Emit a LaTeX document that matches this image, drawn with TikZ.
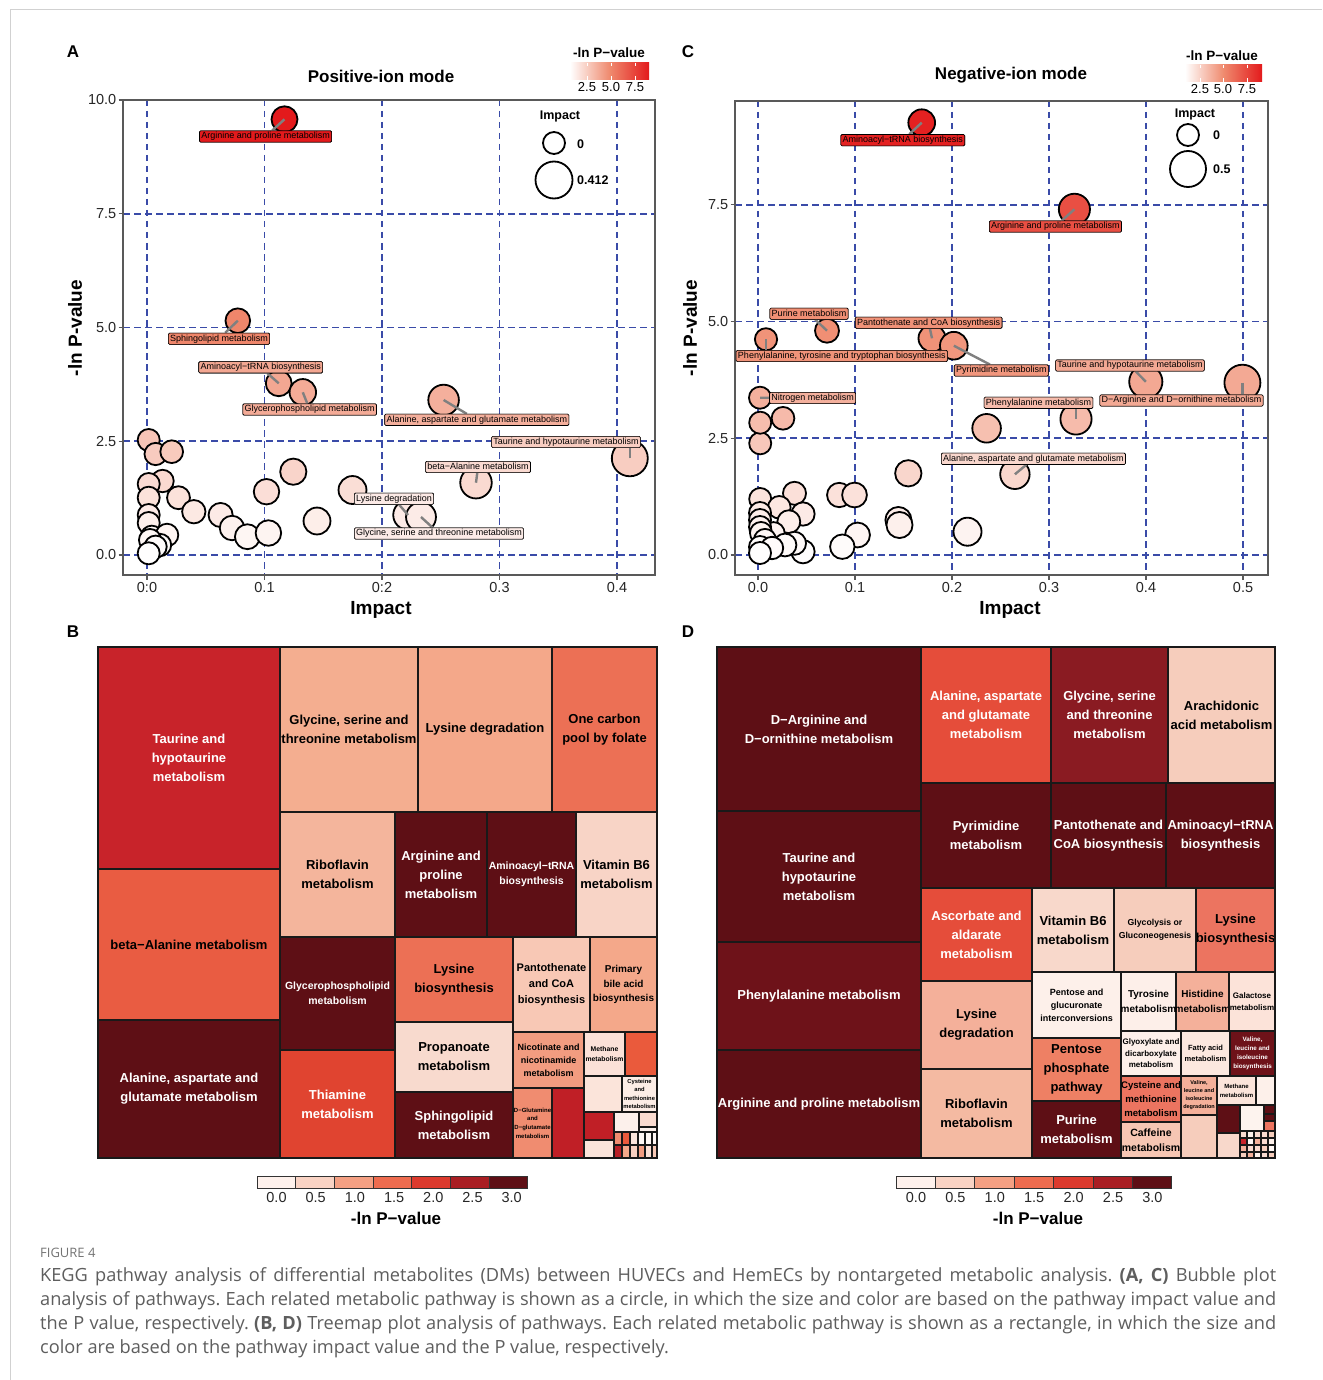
\documentclass[tikz,border=0pt]{standalone}
\usepackage{fontspec}
\setmainfont{Liberation Sans}
\newfontfamily\capfont{Open Sans}
\usetikzlibrary{calc}
\definecolor{salm}{HTML}{EF8A6E}
\definecolor{redone}{HTML}{E31A1C}
\definecolor{gridblue}{HTML}{3A4BA8}
\definecolor{capgray}{HTML}{5E5E5E}
\definecolor{cb0}{HTML}{FEF1EC}
\definecolor{cb1}{HTML}{F9D3C4}
\definecolor{cb2}{HTML}{F4A083}
\definecolor{cb3}{HTML}{EE6C4F}
\definecolor{cb4}{HTML}{DC3A2D}
\definecolor{cb5}{HTML}{A91E23}
\definecolor{cb6}{HTML}{5E0F15}
\newcommand\fs[2]{\fontsize{#1}{#2}\selectfont}
\newcommand\setbc[2]{%
  \pgfmathsetmacro\bpp{max(0,min(100,#1*20))}%
  \pgfmathsetmacro\bqq{max(0,min(100,(#1-5)*22))}%
  \colorlet{bctmp}{salm!\bpp!white}%
  \colorlet{#2}{redone!\bqq!bctmp}}
\newcommand\bubA[3]{%
  \pgfmathsetmacro\bimp{max(0,(#2-147)/1175)}%
  \pgfmathsetmacro\bval{max(0,(555-#3)/45.5)}%
  \pgfmathsetmacro\brad{11+7*\bimp/0.412}%
  \setbc{\bval}{col#1}%
  \node[bubble, fill=col#1, minimum size=2*\brad pt] (#1) at (#2,#3) {};}
\newcommand\bubC[3]{%
  \pgfmathsetmacro\bimp{max(0,(#2-758)/970)}%
  \pgfmathsetmacro\bval{max(0,(555-#3)/46.7)}%
  \pgfmathsetmacro\brad{11+7*\bimp/0.5}%
  \setbc{\bval}{col#1}%
  \node[bubble, fill=col#1, minimum size=2*\brad pt] (#1) at (#2,#3) {};}
\newcommand\cell[9]{%
  \edef\celltmp{\noexpand\definecolor{cellc}{HTML}{#6}}\celltmp
  \path[cellline, fill=cellc] (#2,#3) rectangle (#4,#5);
  \pgfmathsetmacro\clsp{#8*1.45}%
  \node[ctext, text=#7, font=\bfseries\fontsize{#8}{\clsp}\selectfont] (#1) at ({(#2+#4)/2},{(#3+#5)/2}) {#9};}
\newcommand\tcell[5]{%
  \edef\celltmp{\noexpand\definecolor{cellc}{HTML}{#5}}\celltmp
  \path[draw=black!90, line width=1.1pt, fill=cellc] (#1,#2) rectangle (#3,#4);}
\begin{document}
\frenchspacing
\begin{tikzpicture}[x=1pt,y=-1pt,
  grid/.style={gridblue, line width=1.6pt, dash pattern=on 6.5pt off 4.5pt},
  frame/.style={draw=black!65, line width=1.3pt},
  tick/.style={black!65, line width=1.1pt},
  ticklab/.style={font=\fs{14.5}{16}, text=black!85, inner sep=0pt},
  axtitle/.style={font=\bfseries\fs{19}{22}, inner sep=0pt},
  bubble/.style={circle, draw=black, line width=1.8pt, inner sep=0pt},
  leader/.style={draw=black!50, line width=2.4pt},
  plab/.style={draw=black, line width=0.6pt, rounded corners=1.2pt, inner xsep=1.8pt, inner ysep=1.4pt, text height=6.6pt, text depth=1.9pt, font=\fs{9}{10}, text=black},
  cellline/.style={draw=black!90, line width=1.9pt},
  ctext/.style={align=center, inner sep=0pt},
  panlab/.style={font=\bfseries\fs{17}{20}, inner sep=0pt},
  leglab/.style={font=\bfseries\fs{12.5}{14}, inner sep=0pt},
  captext/.style={anchor=base west, inner sep=0pt, text=capgray, font=\capfont\fs{18.2}{22}}]
\useasboundingbox (0,0) rectangle (1322,1380);
\fill[white] (0,0) rectangle (1322,1380);
\draw[black!18, line width=1pt] (10,1380) -- (10,10) -- (1322,10);

% ================= Panel A =================
\node[panlab] (pA) at (73,52) {A};
\node[font=\bfseries\fs{17}{20}, inner sep=0pt] (tA) at (381,76) {Positive-ion mode};
\foreach \u in {0,0.1,0.2,0.3,0.4} \draw[grid] ({147+1175*\u},100) -- ({147+1175*\u},575);
\foreach \v in {0,2.5,5,7.5,10} \draw[grid] (123,{555-45.5*\v}) -- (655,{555-45.5*\v});
\path[frame] (123,100) rectangle (655,575);
\foreach \v/\lab [count=\i] in {0/0.0,2.5/2.5,5/5.0,7.5/7.5,10/10.0} {
  \draw[tick] (118.5,{555-45.5*\v}) -- (123,{555-45.5*\v});
  \node[ticklab, anchor=east] (ya\i) at (116.5,{555-45.5*\v}) {\lab};}
\foreach \u/\lab [count=\i] in {0/0:0,0.1/0.1,0.2/0:2,0.3/0.3,0.4/0.4} {
  \draw[tick] ({147+1175*\u},575) -- ({147+1175*\u},579.5);
  \node[ticklab] (xa\i) at ({147+1175*\u},588) {\lab};}
\node[axtitle] (axA) at (381,610) {Impact};
\node[axtitle, rotate=90] (ayA) at (75,328) {-ln P-value};
\node[font=\bfseries\fs{13.5}{15}, inner sep=0pt] (lgA) at (609,53) {-ln P−value};
\shade[left color=white, right color=redone, middle color=salm] (570,63) rectangle (649,80);
\foreach \x/\lab [count=\i] in {587/2.5,611/5.0,635/7.5} {
  \draw[white, line width=0.8pt] (\x,63) -- (\x,66.5) (\x,76.5) -- (\x,80);
  \node[font=\fs{13}{14}, inner sep=0pt] (gA\i) at (\x,87.5) {\lab};}
\node[leglab] (impA) at (560,116) {Impact};
\node[bubble, fill=white, minimum size=22pt] (iA1) at (554,143) {};
\node[bubble, fill=white, minimum size=37pt] (iA2) at (554,180) {};
\node[leglab, anchor=west] (iAl1) at (577,144) {0};
\node[leglab, anchor=west] (iAl2) at (577,180) {0.412};
\foreach \x/\y [count=\i] in {148.7/440,155.6/454,171.7/451.7,162.5/481,148.7/484,148.7/497.7,178.5/497.7,193.8/511.7,148.7/515,148.7/523,220.6/515,232/528,247.4/536.7,268.4/533,266.5/491.7,293.3/471.7,317/521,352.5/490,151.8/536.7,167/535,160/545,150/540,155.6/546.7,148.7/553.3}
  {\bubA{ua\i}{\x}{\y}}
\bubA{a1}{284.5}{119.3}
\bubA{a2}{237.8}{320.7}
\bubA{a3}{278.7}{383.3}
\bubA{a4}{302.8}{392.3}
\bubA{a5}{443.6}{400}
\bubA{a6}{629.8}{458.3}
\bubA{a7}{476}{482.7}
\bubA{a8}{408}{515}
\bubA{a9}{421}{517}
\node[plab, fill=cola1] (la1) at (265.6,136.5) {Arginine and proline metabolism};
\node[plab, fill=cola2] (la2) at (219,338.7) {Sphingolipid metabolism};
\node[plab, fill=cola3] (la3) at (260.7,367.3) {Aminoacyl−tRNA biosynthesis};
\node[plab, fill=cola4] (la4) at (309.7,409.5) {Glycerophospholipid metabolism};
\node[plab, fill=cola5] (la5) at (476.8,419.8) {Alanine, aspartate and glutamate metabolism};
\node[plab, fill=cola6] (la6) at (566,442) {Taurine and hypotaurine metabolism};
\node[plab, fill=cola7] (la7) at (478,467) {beta−Alanine metabolism};
\node[plab, fill=cola8] (la8) at (394,498.7) {Lysine degradation};
\node[plab, fill=cola9] (la9) at (439,533.5) {Glycine, serine and threonine metabolism};
\foreach \i in {1,2,3,4,5,7,8,9} \draw[leader] (a\i.center) -- (la\i);
\draw[leader] (a6.center) -- (a6.center |- la6.south);
\node[plab, fill=cola1] at (265.6,136.5) {Arginine and proline metabolism};
\node[plab, fill=cola2] at (219,338.7) {Sphingolipid metabolism};
\node[plab, fill=cola3] at (260.7,367.3) {Aminoacyl−tRNA biosynthesis};
\node[plab, fill=cola4] at (309.7,409.5) {Glycerophospholipid metabolism};
\node[plab, fill=cola5] at (476.8,419.8) {Alanine, aspartate and glutamate metabolism};
\node[plab, fill=cola6] at (566,442) {Taurine and hypotaurine metabolism};
\node[plab, fill=cola7] at (478,467) {beta−Alanine metabolism};
\node[plab, fill=cola8] at (394,498.7) {Lysine degradation};
\node[plab, fill=cola9] at (439,533.5) {Glycine, serine and threonine metabolism};

% ================= Panel C =================
\node[panlab] (pC) at (688,52) {C};
\node[font=\bfseries\fs{17}{20}, inner sep=0pt] (tC) at (1011,75) {Negative-ion mode};
\foreach \u in {0,0.1,0.2,0.3,0.4,0.5} \draw[grid] ({758+970*\u},101) -- ({758+970*\u},575);
\foreach \v in {0,2.5,5,7.5} \draw[grid] (735,{555-46.7*\v}) -- (1268,{555-46.7*\v});
\path[frame] (735,101) rectangle (1268,575);
\foreach \v/\lab [count=\i] in {0/0.0,2.5/2.5,5/5.0,7.5/7.5} {
  \draw[tick] (730.5,{555-46.7*\v}) -- (735,{555-46.7*\v});
  \node[ticklab, anchor=east] (yc\i) at (728.5,{555-46.7*\v}) {\lab};}
\foreach \u/\lab [count=\i] in {0/0.0,0.1/0.1,0.2/0.2,0.3/0.3,0.4/0.4,0.5/0.5} {
  \draw[tick] ({758+970*\u},575) -- ({758+970*\u},579.5);
  \node[ticklab] (xc\i) at ({758+970*\u},588) {\lab};}
\node[axtitle] (axC) at (1010,610) {Impact};
\node[axtitle, rotate=90] (ayC) at (690,328) {-ln P-value};
\node[font=\bfseries\fs{13.5}{15}, inner sep=0pt] (lgC) at (1222,56) {-ln P−value};
\shade[left color=white, right color=redone, middle color=salm] (1185,65) rectangle (1262,82);
\foreach \x/\lab [count=\i] in {1200/2.5,1223/5.0,1247/7.5} {
  \draw[white, line width=0.8pt] (\x,65) -- (\x,68.5) (\x,78.5) -- (\x,82);
  \node[font=\fs{13}{14}, inner sep=0pt] (gC\i) at (\x,89.5) {\lab};}
\node[leglab] (impC) at (1195,114) {Impact};
\node[bubble, fill=white, minimum size=22pt] (iC1) at (1188,135) {};
\node[bubble, fill=white, minimum size=36pt] (iC2) at (1188,169) {};
\node[leglab, anchor=west] (iCl1) at (1213,135) {0};
\node[leglab, anchor=west] (iCl2) at (1213,169) {0.5};
\foreach \x/\y [count=\i] in {760.2/443.3,760.2/422.7,783/418.3,986.6/428.3,908.3/473.3,839.2/495,854.5/495,794.5/493.3,760.2/499,803/514,779.3/507.3,898.4/520,899.5/525,857.5/535,967.5/531.7,842.3/546.7,803/551.7,788.8/521.7,773.5/533.3,794.5/543.3,785/545,760/513,760/520,760/527,761/533,765/540,760/547,772/548,760/553}
  {\bubC{uc\i}{\x}{\y}}
\bubC{c1}{921.7}{122.7}
\bubC{c2}{1074.4}{209.3}
\bubC{c3}{827}{330.7}
\bubC{c4}{932}{338.3}
\bubC{c5}{766}{339.3}
\bubC{c6}{953.8}{345.7}
\bubC{c7}{1145.8}{381.7}
\bubC{c8}{1242.4}{382.7}
\bubC{c9}{760}{397.7}
\bubC{c10}{1076}{419}
\bubC{c11}{1014.9}{474.3}
\node[plab, fill=colc1] (lc1) at (902.8,140.2) {Aminoacyl−tRNA biosynthesis};
\node[plab, fill=colc2] (lc2) at (1055.4,226.5) {Arginine and proline metabolism};
\node[plab, fill=colc3] (lc3) at (809,313.7) {Purine metabolism};
\node[plab, fill=colc4] (lc4) at (928.6,322.7) {Pantothenate and CoA biosynthesis};
\node[plab, fill=colc5] (lc5) at (841.8,356) {Phenylalanine, tyrosine and tryptophan biosynthesis};
\node[plab, fill=colc6] (lc6) at (1001.3,370.5) {Pyrimidine metabolism};
\node[plab, fill=colc7] (lc7) at (1130,365.5) {Taurine and hypotaurine metabolism};
\node[plab, fill=colc8] (lc8) at (1181.5,400.5) {D−Arginine and D−ornithine metabolism};
\node[plab, fill=colc9] (lc9) at (812.6,398) {Nitrogen metabolism};
\node[plab, fill=colc10] (lc10) at (1038.5,402.8) {Phenylalanine metabolism};
\node[plab, fill=colc11] (lc11) at (1033.4,458.8) {Alanine, aspartate and glutamate metabolism};
\foreach \i in {1,2,3,4,6,7,9,11} \draw[leader] (c\i.center) -- (lc\i);
\foreach \i in {5,8} \draw[leader] (c\i.center) -- (c\i.center |- lc\i.north);
\draw[leader] (c10.center) -- (c10.center |- lc10.south);
\node[plab, fill=colc1] at (902.8,140.2) {Aminoacyl−tRNA biosynthesis};
\node[plab, fill=colc2] at (1055.4,226.5) {Arginine and proline metabolism};
\node[plab, fill=colc3] at (809,313.7) {Purine metabolism};
\node[plab, fill=colc4] at (928.6,322.7) {Pantothenate and CoA biosynthesis};
\node[plab, fill=colc5] at (841.8,356) {Phenylalanine, tyrosine and tryptophan biosynthesis};
\node[plab, fill=colc6] at (1001.3,370.5) {Pyrimidine metabolism};
\node[plab, fill=colc7] at (1130,365.5) {Taurine and hypotaurine metabolism};
\node[plab, fill=colc8] at (1181.5,400.5) {D−Arginine and D−ornithine metabolism};
\node[plab, fill=colc9] at (812.6,398) {Nitrogen metabolism};
\node[plab, fill=colc10] at (1038.5,402.8) {Phenylalanine metabolism};
\node[plab, fill=colc11] at (1033.4,458.8) {Alanine, aspartate and glutamate metabolism};

% ================= Panel B =================
\node[panlab] (pB) at (73,632) {B};
\cell{b1}{98}{647}{280}{869}{C8232A}{white}{13}{Taurine and\\hypotaurine\\metabolism}
\cell{b2}{98}{869}{280}{1020}{E95C42}{black}{13}{beta−Alanine metabolism}
\cell{b3}{98}{1020}{280}{1158}{5E0F15}{white}{13}{Alanine, aspartate and\\glutamate metabolism}
\cell{b4}{280}{647}{418}{812}{F4AE90}{black}{13}{Glycine, serine and\\threonine metabolism}
\cell{b5}{418}{647}{552}{812}{F4A88A}{black}{13}{Lysine degradation}
\cell{b6}{552}{647}{657}{812}{EC7055}{black}{13}{One carbon\\pool by folate}
\cell{b7}{280}{812}{395}{937}{F4B59C}{black}{13}{Riboflavin\\metabolism}
\cell{b8}{395}{812}{487}{937}{5E0F15}{white}{13}{Arginine and\\proline\\metabolism}
\cell{b9}{487}{812}{576}{937}{5E0F15}{white}{10.5}{Aminoacyl−tRNA\\biosynthesis}
\cell{b10}{576}{812}{657}{937}{F8D4C6}{black}{13}{Vitamin B6\\metabolism}
\cell{b11}{280}{937}{395}{1050}{5E0F15}{white}{10.5}{Glycerophospholipid\\metabolism}
\cell{b12}{280}{1050}{395}{1158}{E04430}{white}{13}{Thiamine\\metabolism}
\cell{b13}{395}{937}{513}{1022}{EC7055}{black}{13}{Lysine\\biosynthesis}
\cell{b14}{395}{1022}{513}{1092}{F8DACE}{black}{13}{Propanoate\\metabolism}
\cell{b15}{395}{1092}{513}{1158}{5E0F15}{white}{13}{Sphingolipid\\metabolism}
\cell{b16}{513}{937}{590}{1032}{F8C8B5}{black}{11}{Pantothenate\\and CoA\\biosynthesis}
\cell{b17}{590}{937}{657}{1032}{F4A88A}{black}{10}{Primary\\bile acid\\biosynthesis}
\cell{b18}{513}{1032}{584}{1088}{F29C80}{black}{9}{Nicotinate and\\nicotinamide\\metabolism}
\cell{b19}{513}{1088}{552}{1158}{F08C70}{black}{6}{D−Glutamine\\and\\D−glutamate\\metabolism}
\cell{b20}{552}{1088}{584}{1158}{C01F26}{black}{6}{}
\cell{b21}{584}{1032}{625}{1076}{FBE1D8}{black}{6.8}{Methane\\metabolism}
\cell{b22}{625}{1032}{657}{1076}{EA5A3C}{black}{6}{}
\cell{b23}{584}{1076}{622}{1112}{FBE4DA}{black}{6}{}
\cell{b24}{622}{1076}{657}{1112}{FCEDE6}{black}{5.8}{Cysteine\\and\\methionine\\metabolism}
\tcell{584}{1112}{614}{1140}{C01F26}
\tcell{584}{1140}{614}{1158}{FBE4DA}
\tcell{614}{1112}{639}{1132}{FCF0EB}
\tcell{639}{1112}{657}{1127}{FADBD0}
\tcell{639}{1127}{657}{1132}{FCF0EB}
\foreach \xa/\xb/\c in {614/622/F08C70,622/630/EA5A3C,630/638/FCE5DC,638/645/FFF8F5,645/652/FFF8F5,652/657/FFF8F5} {\tcell{\xa}{1132}{\xb}{1145}{\c}}
\foreach \xa/\xb/\c in {614/622/B81F26,622/630/F4A88A,630/638/F8D0C0,638/645/F29C80,645/652/FCE0D5,652/657/F8C8B5} {\tcell{\xa}{1145}{\xb}{1158}{\c}}
\path[draw=black!90, line width=1.9pt] (98,647) rectangle (657,1158);

% ================= Panel D =================
\node[panlab] (pD) at (688,632) {D};
\cell{d1}{717}{647}{921}{811}{5E0F15}{white}{13}{D−Arginine and\\D−ornithine metabolism}
\cell{d2}{717}{811}{921}{942}{5E0F15}{white}{13}{Taurine and\\hypotaurine\\metabolism}
\cell{d3}{717}{942}{921}{1050}{6E1219}{white}{13}{Phenylalanine metabolism}
\cell{d4}{717}{1050}{921}{1158}{5E0F15}{white}{13}{Arginine and proline metabolism}
\cell{d5}{921}{647}{1051}{783}{E54D3A}{white}{13}{Alanine, aspartate\\and glutamate\\metabolism}
\cell{d6}{1051}{647}{1168}{783}{8A1B22}{white}{13}{Glycine, serine\\and threonine\\metabolism}
\cell{d7}{1168}{647}{1275}{783}{F6CDBC}{black}{13}{Arachidonic\\acid metabolism}
\cell{d8}{921}{783}{1051}{888}{5E0F15}{white}{13}{Pyrimidine\\metabolism}
\cell{d9}{1051}{783}{1166}{888}{5E0F15}{white}{13}{Pantothenate and\\CoA biosynthesis}
\cell{d10}{1166}{783}{1275}{888}{5E0F15}{white}{13}{Aminoacyl−tRNA\\biosynthesis}
\cell{d11}{921}{888}{1032}{981}{E54D3A}{white}{13}{Ascorbate and\\aldarate\\metabolism}
\cell{d12}{921}{981}{1032}{1069}{F4B09A}{black}{13}{Lysine\\degradation}
\cell{d13}{921}{1069}{1032}{1158}{F4BAA2}{black}{13}{Riboflavin\\metabolism}
\cell{d14}{1032}{888}{1114}{972}{F8D8CB}{black}{13}{Vitamin B6\\metabolism}
\cell{d15}{1114}{888}{1196}{972}{F6CDBC}{black}{8.7}{Glycolysis or\\Gluconeogenesis}
\cell{d16}{1196}{888}{1275}{972}{EC7460}{black}{13}{Lysine\\biosynthesis}
\cell{d17}{1032}{972}{1121}{1038}{FDF0EA}{black}{9}{Pentose and\\glucuronate\\interconversions}
\cell{d18}{1032}{1038}{1121}{1101}{EE8064}{black}{13}{Pentose\\phosphate\\pathway}
\cell{d19}{1032}{1101}{1121}{1158}{5E0F15}{white}{13}{Purine\\metabolism}
\cell{d20}{1121}{972}{1176}{1031}{FDEFE9}{black}{10}{Tyrosine\\metabolism}
\cell{d21}{1176}{972}{1229}{1031}{F4B09A}{black}{10}{Histidine\\metabolism}
\cell{d22}{1229}{972}{1275}{1031}{FCE3D9}{black}{8}{Galactose\\metabolism}
\cell{d23}{1121}{1031}{1181}{1076}{FDF0EA}{black}{8}{Glyoxylate and\\dicarboxylate\\metabolism}
\cell{d24}{1181}{1031}{1230}{1076}{FCE8DF}{black}{7.5}{Fatty acid\\metabolism}
\cell{d25}{1230}{1031}{1275}{1076}{6E1219}{white}{6.3}{Valine,\\leucine and\\isoleucine\\biosynthesis}
\cell{d26}{1121}{1076}{1181}{1122}{EC7460}{black}{9.6}{Cysteine and\\methionine\\metabolism}
\cell{d27}{1181}{1076}{1217}{1115}{F4B09A}{black}{5.5}{Valine,\\leucine and\\isoleucine\\degradation}
\cell{d28}{1217}{1076}{1256}{1105}{FBE4DA}{black}{6}{Methane\\metabolism}
\tcell{1256}{1076}{1275}{1105}{FDF0EA}
\cell{d30}{1121}{1122}{1181}{1158}{F6C6B3}{black}{10.5}{Caffeine\\metabolism}
\tcell{1181}{1115}{1217}{1158}{F6CDBC}
\tcell{1217}{1105}{1240}{1133}{5E0F15}
\tcell{1240}{1105}{1264}{1131}{FDF3EE}
\tcell{1264}{1105}{1275}{1114}{5E0F15}
\tcell{1264}{1114}{1275}{1121}{5E0F15}
\tcell{1264}{1121}{1275}{1131}{EC7460}
\tcell{1217}{1133}{1240}{1158}{F8D8CB}
\foreach \c [count=\i from 0] in {FADBD0,FDF0EA,FADBD0,FADBD0,F6CDBC} {\tcell{1240+7*\i}{1131}{1247+7*\i}{1138}{\c}}
\foreach \c [count=\i from 0] in {C8232A,FFF8F5,F4B09A,FADBD0,FDF0EA} {\tcell{1240+7*\i}{1138}{1247+7*\i}{1145}{\c}}
\foreach \c [count=\i from 0] in {F4B09A,FADBD0,FADBD0,F6CDBC,FFF8F5} {\tcell{1240+7*\i}{1145}{1247+7*\i}{1152}{\c}}
\foreach \c [count=\i from 0] in {F6CDBC,F4B09A,FDF0EA,FADBD0,F6CDBC} {\tcell{1240+7*\i}{1152}{1247+7*\i}{1158}{\c}}
\path[draw=black!90, line width=1.9pt] (717,647) rectangle (1275,1158);

% ================= colour bars =================
\foreach \c [count=\i from 0] in {cb0,cb1,cb2,cb3,cb4,cb5,cb6} {
  \path[draw=black!80, line width=1pt, fill=\c] ({257+\i*38.7},1176) rectangle ({257+(\i+1)*38.7},1188);
  \path[draw=black!80, line width=1pt, fill=\c] ({896+\i*39.4},1176) rectangle ({896+(\i+1)*39.4},1188);}
\foreach \lab [count=\i from 0] in {0.0,0.5,1.0,1.5,2.0,2.5,3.0} {
  \node[ticklab] (cbB\i) at ({276.5+\i*39.2},1197.5) {\lab};
  \node[ticklab] (cbD\i) at ({916+\i*39.4},1197.5) {\lab};}
\node[font=\bfseries\fs{17}{19}, inner sep=0pt] (cbtB) at (396,1218) {-ln P−value};
\node[font=\bfseries\fs{17}{19}, inner sep=0pt] (cbtD) at (1038,1218) {-ln P−value};

% ================= caption =================
\node[captext, font=\capfont\fs{13}{16}, text=black!55] (fig) at (40,1257) {FIGURE 4};
\node[captext] (cap1) at (40,1281) {\makebox[1236pt][s]{KEGG pathway analysis of differential metabolites (DMs) between HUVECs and HemECs by nontargeted metabolic analysis. \textbf{(A, C)} Bubble plot}};
\node[captext] (cap2) at (40,1305) {\makebox[1236pt][s]{analysis of pathways. Each related metabolic pathway is shown as a circle, in which the size and color are based on the pathway impact value and}};
\node[captext] (cap3) at (40,1329) {\makebox[1236pt][s]{the P value, respectively. \textbf{(B, D)} Treemap plot analysis of pathways. Each related metabolic pathway is shown as a rectangle, in which the size and}};
\node[captext] (cap4) at (40,1353) {color are based on the pathway impact value and the P value, respectively.};
\end{tikzpicture}
\end{document}
